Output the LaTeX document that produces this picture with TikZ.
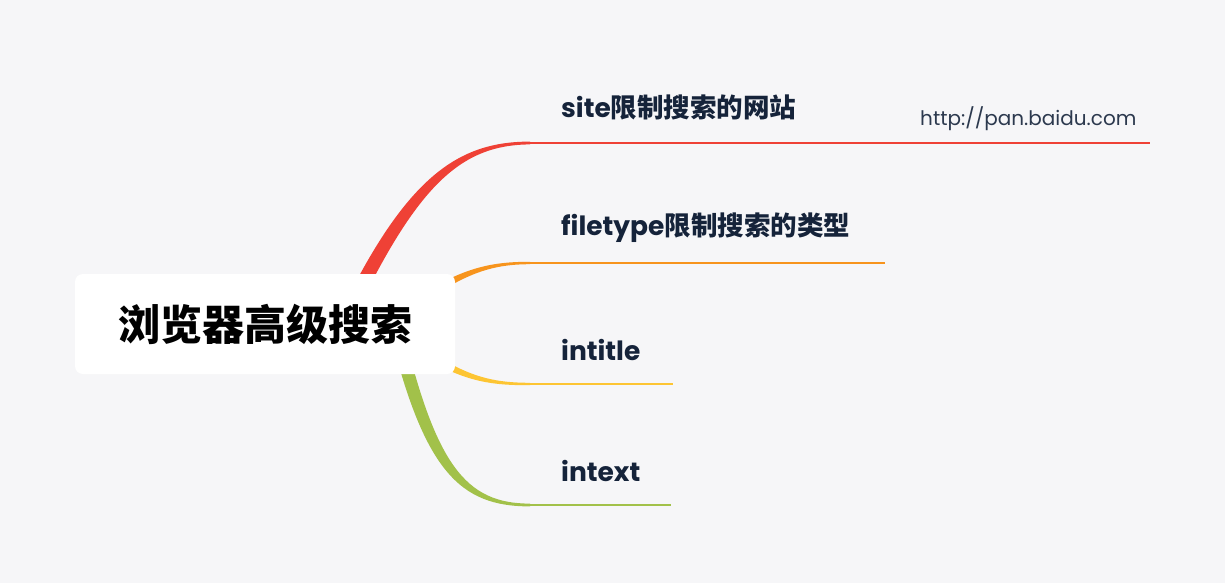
\documentclass[tikz,border=0pt]{standalone}
\usepackage{fontspec}
\newfontfamily\cjk{Noto Sans CJK SC}
\newfontfamily\pop{Poppins}
\usetikzlibrary{positioning}
\definecolor{bg}{HTML}{F6F6F8}
\definecolor{ink}{HTML}{15233A}
\definecolor{cred}{HTML}{EF4136}
\definecolor{corange}{HTML}{F7941D}
\definecolor{cyellow}{HTML}{FDC533}
\definecolor{cgreen}{HTML}{A2C14A}
\newcommand{\lat}[1]{{\pop\bfseries #1}}
\newcommand{\han}[1]{{\cjk\bfseries #1}}
\tikzset{
  topic/.style={anchor=west,inner sep=0pt,text=ink,font=\fontsize{26.5}{30}\selectfont},
  branchline/.style={line width=2.7pt},
  root/.style={fill=white,rounded corners=8pt,minimum width=380pt,minimum height=100pt,
    font=\cjk\bfseries\fontsize{42}{46}\selectfont}
}
\begin{document}
\begin{tikzpicture}[x=1pt,y=-1pt]
  \fill[bg] (0,0) rectangle (1225,583);
  \useasboundingbox (0,0) rectangle (1225,583);
  \node[topic] (site) at (561,107) {\lat{site}\han{限制搜索的网站}};
  \node[topic] (ftype) at (561,228) {\lat{filetype}\han{限制搜索的类型}};
  \node[topic] (ititle) at (561,350) {\lat{intitle}};
  \node[topic] (itext) at (561,471) {\lat{intext}};
  \node[anchor=west,inner sep=0pt,text=ink!90,font=\pop\fontsize{20}{22}\selectfont] (url) at (920,119) {http://pan.baidu.com};
  \coordinate (ered) at (530,143);
  \coordinate (eorange) at (530,263);
  \coordinate (eyellow) at (530,384);
  \coordinate (egreen) at (530,505);
  \fill[cred] (332,330) .. controls (402,180) and (455,141.5) .. ([yshift=1.4pt]ered)
    -- ([yshift=-1.4pt]ered) .. controls (460,145) and (416,185) .. (348,330) -- cycle;
  \fill[corange] (410,302) .. controls (460,268) and (490,261.7) .. ([yshift=1.2pt]eorange)
    -- ([yshift=-1.2pt]eorange) .. controls (490,264.3) and (463,274) .. (413,310) -- cycle;
  \fill[cyellow] (410,348) .. controls (460,382) and (490,385.3) .. ([yshift=-1.2pt]eyellow)
    -- ([yshift=1.2pt]eyellow) .. controls (490,382.7) and (463,376) .. (413,340) -- cycle;
  \fill[cgreen] (387,320) .. controls (423,472) and (460,506.4) .. ([yshift=-1.4pt]egreen)
    -- ([yshift=1.4pt]egreen) .. controls (466,503.6) and (435,466) .. (401,320) -- cycle;
  \draw[cred,branchline] (ered) -- (ered -| 1150,0);
  \draw[corange,branchline] (eorange) -- (eorange -| 885,0);
  \draw[cyellow,branchline] (eyellow) -- (eyellow -| 673,0);
  \draw[cgreen,branchline] (egreen) -- (egreen -| 671,0);
  \node[root] (browser) at (265,324) {浏览器高级搜索};
\end{tikzpicture}
\end{document}
